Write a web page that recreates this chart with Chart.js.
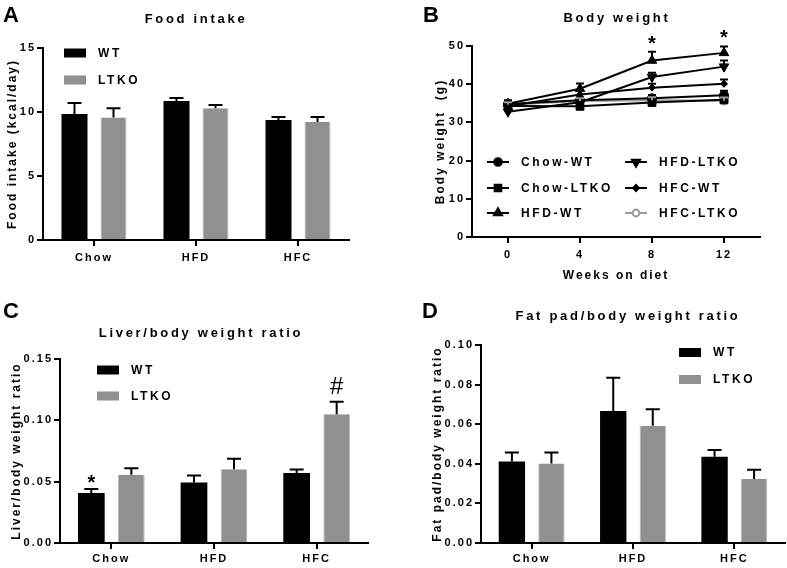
<!DOCTYPE html>
<html>
<head>
<meta charset="utf-8">
<title>Food intake, body weight and organ ratios</title>
<script src="https://cdn.jsdelivr.net/npm/chart.js@4.4.1/dist/chart.umd.min.js"></script>
<style>
  body { margin: 0; background: #fff; }
  #page { position: relative; width: 787px; height: 568px; overflow: hidden; font-family: 'Liberation Sans', Arial, sans-serif; color: #000; }
  canvas { position: absolute; }
  .letter { position: absolute; font-size: 22px; font-weight: bold; line-height: 22px; }
  .title { position: absolute; font-size: 13px; font-weight: bold; letter-spacing: 2.7px; line-height: 13px; white-space: nowrap; transform: translate(-50%, -50%); }
</style>
</head>
<body>
<div id="page">
  <canvas id="chartA" width="390" height="270" style="left:0; top:0;"></canvas>
  <canvas id="chartB" width="397" height="290" style="left:390px; top:0;"></canvas>
  <canvas id="chartC" width="390" height="288" style="left:0; top:280px;"></canvas>
  <canvas id="chartD" width="397" height="288" style="left:390px; top:280px;"></canvas>

  <div class="letter" style="left:3px; top:4px;">A</div>
  <div class="title" style="left:196px; top:18px;">Food intake</div>
  <div class="letter" style="left:423px; top:4px;">B</div>
  <div class="title" style="left:617px; top:17px;">Body weight</div>
  <div class="letter" style="left:3px; top:300px;">C</div>
  <div class="title" style="left:201px; top:332px;">Liver/body weight ratio</div>
  <div class="letter" style="left:422px; top:300px;">D</div>
  <div class="title" style="left:628px; top:315px;">Fat pad/body weight ratio</div>
</div>

<script>
// === data ===
const groups = ['Chow', 'HFD', 'HFC'];

const foodWT = [9.84, 10.86, 9.37];
const foodWTErr = [0.86, 0.24, 0.23];
const foodKO = [9.57, 10.30, 9.22];
const foodKOErr = [0.73, 0.25, 0.38];

const weeks = [0, 4, 8, 12];
const chowWT = [34.8, 35.8, 36.3, 37.1];
const chowWTErr = [0.8, 0.8, 0.9, 1.2];
const chowKO = [34.3, 34.2, 35.2, 35.9];
const chowKOErr = [0.7, 0.6, 0.7, 0.8];
const hfdWT = [34.9, 38.8, 46.2, 48.2];
const hfdWTErr = [0.9, 1.4, 2.3, 1.7];
const hfdKO = [32.8, 35.3, 41.9, 44.6];
const hfdKOErr = [0.8, 0.8, 1.1, 1.6];
const hfcWT = [34.2, 37.3, 39.1, 40.1];
const hfcWTErr = [0.8, 0.9, 1.0, 1.1];
const hfcKO = [34.6, 35.6, 35.8, 35.7];
const hfcKOErr = [0.7, 0.7, 0.8, 0.8];
const hfdWTMarks = ['', '', '*', '*'];

const liverWT = [0.0407, 0.0493, 0.0570];
const liverWTErr = [0.0033, 0.0057, 0.0030];
const liverKO = [0.0556, 0.0602, 0.1050];
const liverKOErr = [0.0054, 0.0084, 0.0102];
const liverWTMarks = ['*', '', ''];
const liverKOMarks = ['', '', '#'];

const fatWT = [0.0411, 0.0667, 0.0435];
const fatWTErr = [0.0046, 0.0167, 0.0035];
const fatKO = [0.0401, 0.0592, 0.0323];
const fatKOErr = [0.0056, 0.0084, 0.0047];

// === shared look ===
const FONT = "'Liberation Sans', Arial, sans-serif";
const BLACK = '#000000';
const GREY = '#909090';

Chart.defaults.font.family = FONT;
Chart.defaults.font.weight = 'bold';
Chart.defaults.color = BLACK;
Chart.defaults.animation = false;

// wide letter spacing like the Prism export
const spacing = {
  id: 'spacing',
  beforeDraw(chart) { chart.ctx.letterSpacing = '2px'; }
};

// upward error bars with caps, plus significance marks
const errorBars = {
  id: 'errorBars',
  afterDatasetsDraw(chart, args, opts) {
    const ctx = chart.ctx;
    const yScale = chart.scales.y;
    ctx.save();
    ctx.lineWidth = 2;
    ctx.letterSpacing = '0px';
    chart.data.datasets.forEach((ds, i) => {
      if (!ds.err) return;
      const meta = chart.getDatasetMeta(i);
      meta.data.forEach((el, j) => {
        const v = ds.data[j];
        const val = typeof v === 'object' ? v.y : v;
        const top = yScale.getPixelForValue(val + ds.err[j]);
        ctx.strokeStyle = ds.errColor || BLACK;
        ctx.beginPath();
        ctx.moveTo(el.x, el.y);
        ctx.lineTo(el.x, top);
        ctx.moveTo(el.x - opts.cap, top);
        ctx.lineTo(el.x + opts.cap, top);
        ctx.stroke();
        if (ds.marks && ds.marks[j]) {
          const m = ds.marks[j];
          ctx.fillStyle = BLACK;
          ctx.textAlign = 'center';
          ctx.textBaseline = 'alphabetic';
          ctx.font = m === '#' ? 'normal 24px ' + FONT : 'bold 20px ' + FONT;
          ctx.fillText(m, el.x, top - (m === '#' ? 10 : 2) + opts.markShift);
        }
      });
    });
    ctx.restore();
  }
};

// legend with filled boxes, inside the plot
const boxLegend = {
  id: 'boxLegend',
  afterDraw(chart, args, o) {
    const ctx = chart.ctx, a = chart.chartArea;
    ctx.save();
    ctx.font = 'bold 12px ' + FONT;
    ctx.letterSpacing = '2.6px';
    ctx.textBaseline = 'middle';
    ctx.textAlign = 'left';
    chart.data.datasets.forEach((ds, i) => {
      const cy = a.top + o.top + i * o.row;
      const bx = a.left + o.left;
      ctx.fillStyle = ds.backgroundColor;
      ctx.fillRect(bx, cy - 4.5, 22, 9);
      ctx.fillStyle = BLACK;
      ctx.fillText(ds.label, bx + 34, cy + 0.5);
    });
    ctx.restore();
  }
};

// legend with line + marker samples, two columns
const lineLegend = {
  id: 'lineLegend',
  afterDraw(chart, args, o) {
    const ctx = chart.ctx, a = chart.chartArea;
    ctx.save();
    ctx.font = 'bold 12px ' + FONT;
    ctx.letterSpacing = '2.6px';
    ctx.textBaseline = 'middle';
    ctx.textAlign = 'left';
    chart.data.datasets.forEach((ds, i) => {
      const col = Math.floor(i / 3), row = i % 3;
      const x0 = a.left + o.cols[col];
      const cy = a.top + o.rows[row];
      ctx.strokeStyle = ds.borderColor;
      ctx.lineWidth = 2;
      ctx.beginPath();
      ctx.moveTo(x0, cy);
      ctx.lineTo(x0 + 22, cy);
      ctx.stroke();
      ctx.fillStyle = ds.pointBackgroundColor;
      ctx.strokeStyle = ds.pointBorderColor;
      Chart.helpers.drawPoint(ctx, {
        pointStyle: ds.pointStyle, radius: ds.pointRadius * 0.85,
        rotation: ds.pointRotation || 0, borderWidth: ds.pointBorderWidth
      }, x0 + 11, cy);
      ctx.fillStyle = BLACK;
      ctx.fillText(ds.label, x0 + 34, cy + 0.5);
    });
    ctx.restore();
  }
};

function xBarAxis(h, pad) {
  return {
    offset: true,
    grid: { display: true, offset: false, drawOnChartArea: false, drawTicks: true, tickLength: 6, color: BLACK, lineWidth: 2 },
    border: { display: true, color: BLACK, width: 2 },
    ticks: { padding: pad, font: { size: 11, weight: 'bold' }, color: BLACK },
    afterFit(s) { s.height = h; }
  };
}

function yAxis(w, max, step, title, digits) {
  return {
    min: 0, max: max,
    grid: { display: true, drawOnChartArea: false, drawTicks: true, tickLength: 6, color: BLACK, lineWidth: 2 },
    border: { display: true, color: BLACK, width: 2 },
    ticks: {
      stepSize: step, padding: 1, font: { size: 11, weight: 'bold' }, color: BLACK,
      callback: v => v.toFixed(digits)
    },
    title: { display: true, text: title, padding: 0, font: { size: 12, weight: 'bold' }, color: BLACK },
    afterFit(s) { s.width = w; }
  };
}

function barChart(id, wt, wtErr, ko, koErr, opts) {
  return new Chart(document.getElementById(id), {
    type: 'bar',
    data: {
      labels: groups,
      datasets: [
        { label: 'WT', data: wt, err: wtErr, marks: opts.wtMarks, backgroundColor: BLACK,
          categoryPercentage: opts.cat, barPercentage: 0.667 },
        { label: 'LTKO', data: ko, err: koErr, marks: opts.koMarks, backgroundColor: GREY,
          borderColor: '#b8b8b8', borderWidth: { left: 1, right: 1, top: 0, bottom: 0 },
          categoryPercentage: opts.cat, barPercentage: 0.667 }
      ]
    },
    options: {
      responsive: false,
      layout: { padding: opts.padding },
      plugins: {
        legend: { display: false },
        tooltip: { enabled: false },
        errorBars: { cap: 7, markShift: 2 },
        boxLegend: opts.legend
      },
      scales: {
        x: xBarAxis(opts.xh, opts.xpad),
        y: yAxis(opts.yw, opts.ymax, opts.ystep, opts.ytitle, opts.digits)
      }
    },
    plugins: [spacing, errorBars, boxLegend]
  });
}

document.addEventListener('DOMContentLoaded', function () {

  // === A: food intake ===
  barChart('chartA', foodWT, foodWTErr, foodKO, foodKOErr, {
    padding: { left: 5, top: 48, right: 41, bottom: 0 },
    xh: 30, xpad: 5, yw: 38, ymax: 15, ystep: 5, digits: 0,
    ytitle: 'Food intake (kcal/day)', cat: 0.765,
    legend: { left: 21, top: 5, row: 27 }
  });

  // === B: body weight over time ===
  const pts = vals => weeks.map((w, i) => ({ x: w, y: vals[i] }));
  const series = (label, vals, err, style, radius, extra) => Object.assign({
    label: label, data: pts(vals), err: err,
    borderColor: BLACK, borderWidth: 2, tension: 0,
    pointStyle: style, pointRadius: radius, pointBorderWidth: 1,
    pointBackgroundColor: BLACK, pointBorderColor: BLACK
  }, extra || {});

  new Chart(document.getElementById('chartB'), {
    type: 'line',
    data: {
      datasets: [
        series('Chow-WT', chowWT, chowWTErr, 'circle', 4.5),
        series('Chow-LTKO', chowKO, chowKOErr, 'rect', 5.5),
        series('HFD-WT', hfdWT, hfdWTErr, 'triangle', 5.5, { marks: hfdWTMarks }),
        series('HFD-LTKO', hfdKO, hfdKOErr, 'triangle', 5.5, { pointRotation: 180 }),
        series('HFC-WT', hfcWT, hfcWTErr, 'rectRot', 3.5),
        series('HFC-LTKO', hfcKO, hfcKOErr, 'circle', 4, {
          borderColor: '#9a9a9a', pointBorderColor: '#9a9a9a', pointBackgroundColor: '#ffffff',
          pointBorderWidth: 1.5, errColor: '#9a9a9a'
        })
      ]
    },
    options: {
      responsive: false,
      layout: { padding: { left: 43, top: 46, right: 27, bottom: 7 } },
      plugins: {
        legend: { display: false },
        tooltip: { enabled: false },
        errorBars: { cap: 4, markShift: 0 },
        lineLegend: { cols: [15, 153], rows: [116, 142, 167] }
      },
      scales: {
        x: {
          type: 'linear', min: -2, max: 14,
          afterBuildTicks(s) { s.ticks = weeks.map(v => ({ value: v })); },
          grid: { display: true, drawOnChartArea: false, drawTicks: true, tickLength: 6, color: BLACK, lineWidth: 2 },
          border: { display: true, color: BLACK, width: 2 },
          ticks: { padding: 5, font: { size: 11, weight: 'bold' }, color: BLACK },
          title: { display: true, text: 'Weeks on diet', padding: 0, font: { size: 12, weight: 'bold' }, color: BLACK },
          afterFit(s) { s.height = 46; }
        },
        y: yAxis(39, 50, 10, 'Body weight  (g)', 0)
      }
    },
    plugins: [spacing, errorBars, lineLegend]
  });

  // === C: liver/body weight ratio ===
  barChart('chartC', liverWT, liverWTErr, liverKO, liverKOErr, {
    padding: { left: 9, top: 79, right: 22, bottom: 0 },
    xh: 25, xpad: 3, yw: 51, ymax: 0.15, ystep: 0.05, digits: 2,
    ytitle: 'Liver/body weight ratio', cat: 0.78,
    wtMarks: liverWTMarks, koMarks: liverKOMarks,
    legend: { left: 37, top: 11, row: 26 }
  });

  // === D: fat pad/body weight ratio ===
  barChart('chartD', fatWT, fatWTErr, fatKO, fatKOErr, {
    padding: { left: 40, top: 65, right: 2, bottom: 0 },
    xh: 25, xpad: 3, yw: 51, ymax: 0.10, ystep: 0.02, digits: 2,
    ytitle: 'Fat pad/body weight ratio', cat: 0.78,
    legend: { left: 198, top: 7.5, row: 27 }
  });

});
</script>
</body>
</html>
